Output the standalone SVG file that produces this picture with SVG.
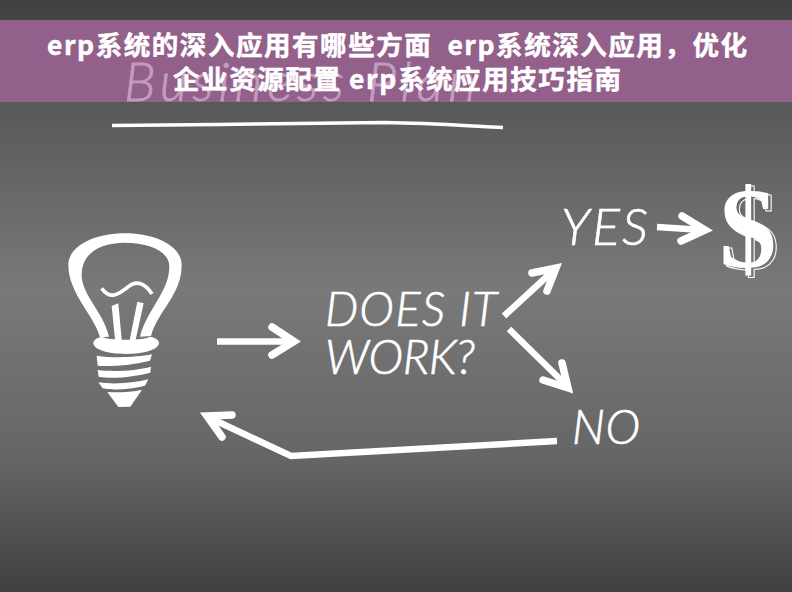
<svg xmlns="http://www.w3.org/2000/svg" width="792" height="592" viewBox="0 0 792 592">
<defs>
<linearGradient id="bg" x1="0" y1="0" x2="0" y2="1">
<stop offset="0" stop-color="#414141"/><stop offset="0.17" stop-color="#585858"/><stop offset="0.49" stop-color="#797979"/><stop offset="0.78" stop-color="#656565"/><stop offset="1" stop-color="#404040"/>
</linearGradient>
<filter id="soft" x="-5%" y="-5%" width="110%" height="110%"><feGaussianBlur stdDeviation="0.5"/></filter>
</defs>
<style>
.hand{font-family:"Lato","Open Sans",sans-serif;font-weight:300;font-style:italic;fill:#fff;stroke:#fff;stroke-width:.7px;font-size:47px}
.title{font-family:"Noto Sans CJK SC","Liberation Sans",sans-serif;font-weight:700;font-size:26.500px;fill:#fff;stroke:#fff;stroke-width:.5px;text-anchor:middle}
.arrow{fill:none;stroke:#fff;stroke-width:6.500;stroke-linejoin:miter}
.head{fill:none;stroke:#fff;stroke-width:7.500;stroke-linecap:round;stroke-linejoin:miter}
</style>
<rect id="background" width="792" height="592" fill="url(#bg)"/>
<g id="banner">
<rect y="20" width="792" height="82" fill="#935f8b"/>
<text x="124" y="101" font-family="Lato,sans-serif" font-weight="300" font-style="italic" font-size="54" fill="#c29cba" stroke="#c29cba" stroke-width=".8" textLength="352" lengthAdjust="spacing">Business Plan</text>
<text class="title" x="397" y="55" xml:space="preserve" textLength="700" lengthAdjust="spacing">erp系统的深入应用有哪些方面  erp系统深入应用，优化</text>
<text class="title" x="397" y="89" textLength="448" lengthAdjust="spacing">企业资源配置 erp系统应用技巧指南</text>
</g>
<g id="underline"><path d="M112 125.500 C 200 125 330 123 385 122.500 C 430 123 470 126 503 127.500" fill="none" stroke="#fff" stroke-width="3.500"/></g>
<g id="bulb" transform="translate(50 220) scale(.3333)" filter="url(#soft)" fill="#fff">
<path fill-rule="evenodd" d="M150 352C135 290 55 220 55 135C55 80 130 40 225 40C320 40 395 80 395 135C395 225 325 270 303 348L270 350C290 270 358 215 358 140C358 95 300 68 225 68C150 68 95 100 95 165C95 225 160 275 177 350Z"/>
<path d="M185 258L205 250L217 378L197 378Z"/>
<path d="M262 245L281 250L253 378L236 376Z"/>
<path d="M155 205C180 240 205 225 235 200C260 180 285 190 306 222" fill="none" stroke="#fff" stroke-width="11"/>
<path fill-rule="evenodd" d="M130 370C130 358 145 352 158 350C165 362 290 362 298 350C315 352 328 360 327 370C325 390 280 402 228 402C175 402 132 390 130 370Z"/>
<path d="M140 407C190 415 260 412 306 403L300 422C250 435 190 440 143 437Z"/>
<path d="M143 450C190 456 260 452 303 440L301 458C255 470 190 478 146 470Z"/>
<path d="M145 487C190 494 250 490 295 478L285 497C245 508 190 512 158 505Z"/>
<path d="M172 516C205 518 245 516 276 509L241 560L205 561Z"/>
</g>
<g id="connectors">
<g id="arrow-bulb-question"><path class="arrow" d="M217 341.500H293"/><path class="head" d="M272 327L294 341.500L272 355"/></g>
<g id="arrow-question-yes"><path class="arrow" d="M504 316L554 270"/><path class="head" d="M532 273L556 268L547 291"/></g>
<g id="arrow-question-no"><path class="arrow" d="M509 329L566 385"/><path class="head" d="M543 380L568 388L562 363"/></g>
<g id="arrow-yes-dollar"><path class="arrow" d="M657 227L703 230"/><path class="head" d="M682 216L705 230L681 241"/></g>
<g id="arrow-no-bulb"><path class="arrow" d="M557 441L291 456L210 418"/><path class="head" d="M232 415L207 416L222 437"/></g>
</g>
<g id="node-question">
<text class="hand" x="325" y="326" textLength="172" lengthAdjust="spacing">DOES IT</text>
<text class="hand" x="325" y="374" textLength="150" lengthAdjust="spacing">WORK?</text>
</g>
<g id="node-yes"><text class="hand" style="font-size:52px" x="561" y="245" textLength="87" lengthAdjust="spacing">YES</text></g>
<g id="node-no"><text class="hand" x="572" y="444" textLength="68" lengthAdjust="spacing">NO</text></g>
<g id="node-dollar">
<text x="751" y="269" font-family="Liberation Serif,serif" font-weight="700" font-size="114" fill="none" stroke="#fff" stroke-width="1" text-anchor="middle">$</text>
<text x="748" y="267" font-family="Liberation Serif,serif" font-weight="700" font-size="114" fill="#fff" text-anchor="middle">$</text>
</g>
</svg>
